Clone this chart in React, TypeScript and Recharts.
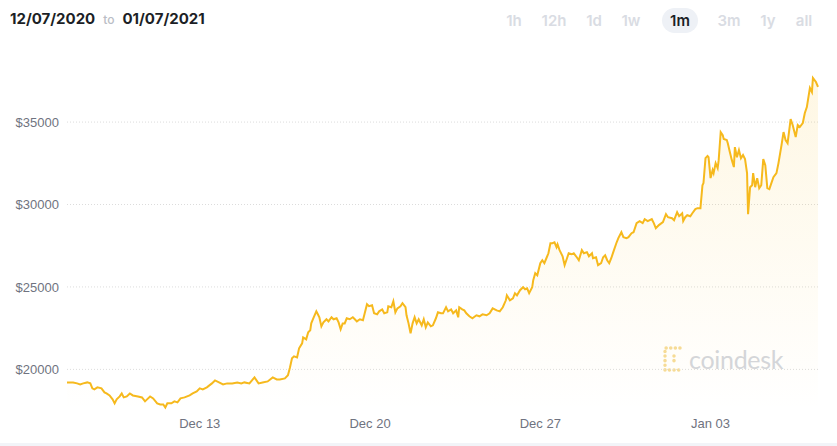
import React from 'react';
import { AreaChart, Area, XAxis, YAxis, CartesianGrid } from 'recharts';

// hours since 12/07/2020 00:00
const hours = [
  13, 19, 23, 26, 29, 33, 36, 38, 40, 43, 47, 50, 52, 55, 58, 60, 62, 65, 67, 69,
  72, 75, 78, 83, 87, 90, 92, 95, 98, 102, 105, 108, 110, 112, 116, 119, 122, 125, 129, 134,
  137, 141, 144, 147, 151, 156, 159, 163, 167, 171, 176, 181, 185, 188, 193, 198, 202, 206, 211, 216,
  220, 223, 228, 231, 233, 235, 237, 240, 242, 245, 246, 249, 251, 253, 254, 256, 259, 260, 262, 264,
  266, 269, 271, 274, 276, 279, 281, 283, 285, 287, 289, 292, 295, 297, 299, 302, 305, 307, 309, 311,
  314, 316, 319, 321, 324, 326, 329, 330, 333, 335, 337, 339, 342, 344, 347, 348, 350, 352, 354, 356,
  358, 360, 363, 365, 367, 369, 372, 374, 377, 379, 382, 384, 387, 389, 392, 394, 397, 399, 400, 403,
  405, 407, 410, 413, 417, 420, 423, 427, 430, 433, 437, 440, 443, 446, 447, 450, 453, 455, 457, 460,
  463, 465, 467, 469, 472, 473, 475, 477, 480, 482, 484, 486, 488, 490, 492, 494, 496, 497, 499, 502,
  504, 506, 508, 511, 513, 516, 518, 521, 523, 526, 528, 531, 532, 535, 537, 540, 542, 544, 546, 548,
  550, 552, 555, 557, 560, 562, 565, 567, 570, 572, 575, 578, 581, 583, 586, 590, 592, 594, 597, 601,
  604, 606, 610, 612, 615, 617, 620, 621, 623, 625, 628, 630, 633, 635, 638, 640, 641, 643, 645, 646,
  648, 650, 651, 653, 655, 656, 658, 660, 661, 664, 665, 667, 669, 671, 672, 674, 676, 678, 680, 682,
  684, 685, 687, 689, 690, 692, 694, 696, 698, 700, 702, 704, 706, 708, 710, 713, 715, 718, 720, 722,
  724, 727, 729, 732, 734, 736, 739, 741, 743, 746, 748, 749, 752, 754,
];

const prices = [
  19210, 19210, 19150, 19090, 19150, 19210, 19150, 18850, 18790, 18910, 18850, 18600, 18540, 18420, 18180, 17940, 18180, 18360, 18540, 18300,
  18360, 18540, 18420, 18360, 18300, 18060, 18180, 18360, 18240, 17940, 17870, 17870, 17690, 17940, 17940, 18060, 18000, 18240, 18300, 18420,
  18540, 18660, 18850, 18790, 18910, 19150, 19330, 19210, 19090, 19150, 19150, 19210, 19150, 19210, 19150, 19510, 19150, 19210, 19270, 19510,
  19390, 19390, 19450, 19640, 20120, 20670, 20790, 20730, 21280, 21580, 21940, 21820, 22250, 22370, 22790, 23100, 23520, 23400, 23160, 22610,
  22850, 23040, 22910, 23160, 23040, 23100, 22850, 22430, 22790, 22790, 23100, 23040, 23160, 23040, 22910, 23040, 22980, 23460, 23950, 23830,
  23890, 23400, 23340, 23520, 23640, 23400, 23460, 23830, 23770, 24130, 23460, 23700, 23830, 24010, 23770, 23280, 22790, 22190, 22790, 23160,
  22790, 23040, 22670, 23040, 22550, 22850, 22610, 22670, 23100, 23460, 23400, 23400, 23770, 23520, 23640, 23400, 23580, 23160, 23770, 23640,
  23580, 23400, 23220, 23100, 23280, 23220, 23340, 23280, 23400, 23700, 23580, 23520, 23770, 24190, 24490, 24190, 24310, 24620, 24490, 24800,
  24980, 24860, 24920, 24620, 24980, 25400, 25830, 25710, 26440, 26620, 26440, 26740, 27040, 27650, 27650, 27710, 27410, 27590, 27230, 26860,
  26320, 26680, 27040, 26980, 27040, 26800, 26620, 27230, 27040, 27110, 26860, 27040, 26740, 26800, 26320, 26440, 26800, 26920, 26620, 26440,
  26740, 27110, 27650, 27960, 28320, 28020, 27960, 28020, 28260, 28320, 28870, 28990, 28870, 29110, 28990, 29110, 28870, 28560, 28750, 28930,
  29410, 29230, 29170, 29050, 29530, 29290, 29470, 29000, 29230, 29350, 29290, 29470, 29720, 29780, 29780, 31170, 31300, 32810, 32940, 32870,
  31600, 32090, 31900, 32510, 32210, 32690, 34390, 34210, 33970, 33910, 33720, 33180, 32690, 32270, 33480, 32870, 33300, 32810, 33000, 32750,
  31900, 29410, 31050, 31170, 31900, 31050, 31600, 30990, 31170, 32750, 32390, 30990, 30930, 31300, 31660, 31900, 32510, 33600, 34390, 33910,
  33720, 35180, 34820, 34090, 34820, 34700, 34940, 35550, 35910, 37070, 36820, 37670, 37430, 37130,
];

const tickHours = [144, 312, 480, 648];
const tickLabels = ['Dec 13', 'Dec 20', 'Dec 27', 'Jan 03'];
const yTicks = [20000, 25000, 30000, 35000];
const ranges = ['1h', '12h', '1d', '1w', '1m', '3m', '1y', 'all'];
const rangeCenters = [514, 554, 594, 631, 680, 729, 768, 804];

const data = hours.map((h, i) => ({ t: h, price: prices[i] }));

const LINE = '#f6b91d';
const FONT = '"Liberation Sans", Arial, sans-serif';

function CoindeskMark() {
  return (
    <div style={{ position: 'absolute', left: 662, top: 344, display: 'flex', alignItems: 'center' }}>
      <svg width={22} height={28} style={{ marginRight: 5 }}>
        <g fill="none" stroke="#f6dc98" strokeWidth={3.5} strokeLinecap="round" strokeDasharray="0.1 4.5">
          <path d="M18 3 H3 V25 H18" />
          <path d="M12 11 V17" />
        </g>
      </svg>
      <span style={{ fontFamily: 'Lato, "Open Sans", sans-serif', fontSize: 25, color: '#d3d6dc', letterSpacing: -0.3 }}>
        coindesk
      </span>
    </div>
  );
}

export default function App() {
  return (
    <div style={{ position: 'absolute', left: 0, top: 0, width: 837, height: 446, background: '#fff', overflow: 'hidden' }}>
      <div style={{ position: 'absolute', left: 10, top: 9, fontFamily: 'Inter, sans-serif', fontWeight: 700, fontSize: 15, color: '#1c1f26', whiteSpace: 'nowrap' }}>
        12/07/2020
        <span style={{ color: '#b9bdc5', fontSize: 12, fontWeight: 500, margin: '0 8px 0 8px' }}>to</span>
        01/07/2021
      </div>
      <div style={{ position: 'absolute', left: 662, top: 8, width: 36, height: 25, borderRadius: 13, background: '#eef1f6' }} />
      {ranges.map((r, i) => (
        <div
          key={r}
          style={{
            position: 'absolute',
            left: rangeCenters[i] - 20,
            width: 40,
            top: 11,
            textAlign: 'center',
            fontFamily: 'Inter, sans-serif',
            fontWeight: 600,
            fontSize: 15,
            color: r === '1m' ? '#1c1f26' : '#d9dce3',
          }}
        >
          {r}
        </div>
      ))}
      <CoindeskMark />
      <div style={{ position: 'absolute', left: 0, top: 0 }}>
        <AreaChart width={837} height={446} data={data} margin={{ top: 72.6, right: 19, left: 0, bottom: 5.4 }}>
          <defs>
            <linearGradient id="btcFill" x1="0" y1="0" x2="0" y2="1">
              <stop offset="0%" stopColor="#f9c22e" stopOpacity={0.22} />
              <stop offset="100%" stopColor="#f9c22e" stopOpacity={0} />
            </linearGradient>
          </defs>
          <CartesianGrid vertical={false} horizontalValues={yTicks} stroke="#dcdcdc" strokeDasharray="1 2" />
          <XAxis
            dataKey="t"
            type="number"
            domain={[13, 754]}
            ticks={tickHours}
            tickFormatter={(v: number) => tickLabels[tickHours.indexOf(v)] ?? ''}
            tick={{ fontSize: 13, fill: '#6f7380', fontFamily: FONT }}
            tickLine={false}
            axisLine={false}
            height={30}
          />
          <YAxis
            type="number"
            domain={[17500, 38000]}
            ticks={yTicks}
            tickFormatter={(v: number) => `$${v}`}
            tick={{ fontSize: 13, fill: '#6f7380', fontFamily: FONT }}
            tickLine={false}
            axisLine={false}
            width={67}
          />
          <Area
            type="linear"
            dataKey="price"
            stroke={LINE}
            strokeWidth={2}
            fill="url(#btcFill)"
            isAnimationActive={false}
            dot={false}
            activeDot={false}
          />
        </AreaChart>
      </div>
      <div style={{ position: 'absolute', left: 0, top: 443, width: 837, height: 3, background: '#f2f4f8' }} />
    </div>
  );
}
